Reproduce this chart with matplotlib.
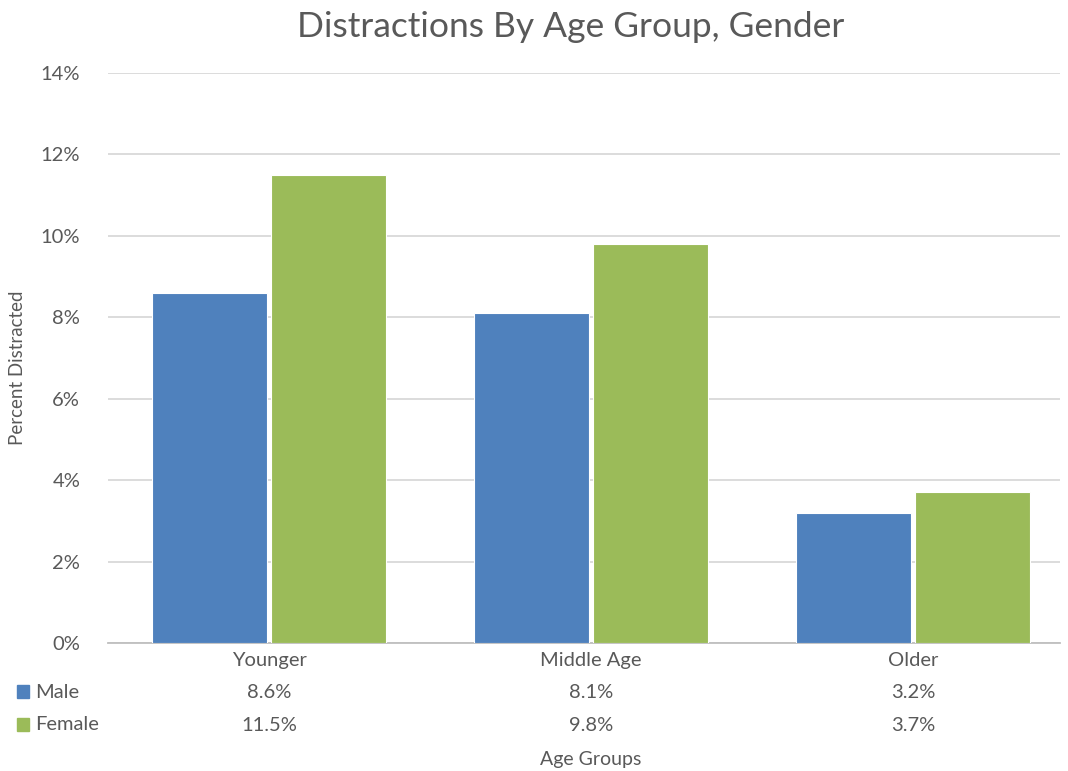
import numpy as np
import matplotlib.pyplot as plt
from matplotlib.ticker import PercentFormatter
import matplotlib.transforms as mtransforms

plt.rcParams['font.family'] = ['Lato', 'DejaVu Sans']

groups = ['Younger', 'Middle Age', 'Older']
male = [8.6, 8.1, 3.2]
female = [11.5, 9.8, 3.7]
series = ['Male', 'Female']
colors = ['#4f81bd', '#9bbb59']
txt = '#595959'

fig = plt.figure(figsize=(10.68, 7.71), dpi=100)
ax = fig.add_axes([108/1068, 128/771, 952/1068, 570/771])

x = np.arange(len(groups))
w = 0.357
ax.bar(x - w/2 - 0.006, male, w, color=colors[0], edgecolor='white', linewidth=0.8, zorder=3)
ax.bar(x + w/2 + 0.006, female, w, color=colors[1], edgecolor='white', linewidth=0.8, zorder=3)

ax.set_xlim(-0.5, 2.456)
ax.set_ylim(0, 14)
ax.set_yticks(np.arange(0, 15, 2))
ax.yaxis.set_major_formatter(PercentFormatter(decimals=0))
ax.grid(axis='y', color='#d9d9d9', linewidth=1.3, zorder=0)
for s in ['top', 'right', 'left']:
    ax.spines[s].set_visible(False)
ax.spines['bottom'].set_color('#bfbfbf')
ax.spines['bottom'].set_linewidth(1.3)
ax.tick_params(axis='y', length=0, labelsize=14.5, labelcolor=txt, pad=20)
ax.set_xticks([])

fig.text(571/1068, 1 - 27/771, 'Distractions By Age Group, Gender', fontsize=25.5,
         color=txt, ha='center', va='center')
fig.text(18/1068, 1 - 368/771, 'Percent Distracted', rotation=90, fontsize=13.5,
         color=txt, ha='center', va='center')

# data table under the axis
trans = mtransforms.blended_transform_factory(ax.transData, ax.transAxes)
row_y = [-0.030, -0.086, -0.144]
for i, g in enumerate(groups):
    ax.text(x[i], row_y[0], g, transform=trans, ha='center', va='center', fontsize=14.5, color=txt)
    ax.text(x[i], row_y[1], f'{male[i]:.1f}%', transform=trans, ha='center', va='center', fontsize=14.5, color=txt)
    ax.text(x[i], row_y[2], f'{female[i]:.1f}%', transform=trans, ha='center', va='center', fontsize=14.5, color=txt)

for k, name in enumerate(series):
    yy = 1 - (692 + 33*k)/771
    fig.patches.append(plt.Rectangle((17/1068, yy - 6/771), 12/1068, 13/771,
                                     transform=fig.transFigure, color=colors[k]))
    fig.text(35/1068, yy, name, fontsize=14.5, color=txt, va='center', ha='left')

fig.text(591/1068, 1 - 760/771, 'Age Groups', fontsize=14, color=txt, ha='center', va='center')

fig.savefig('out.png', dpi=100)
